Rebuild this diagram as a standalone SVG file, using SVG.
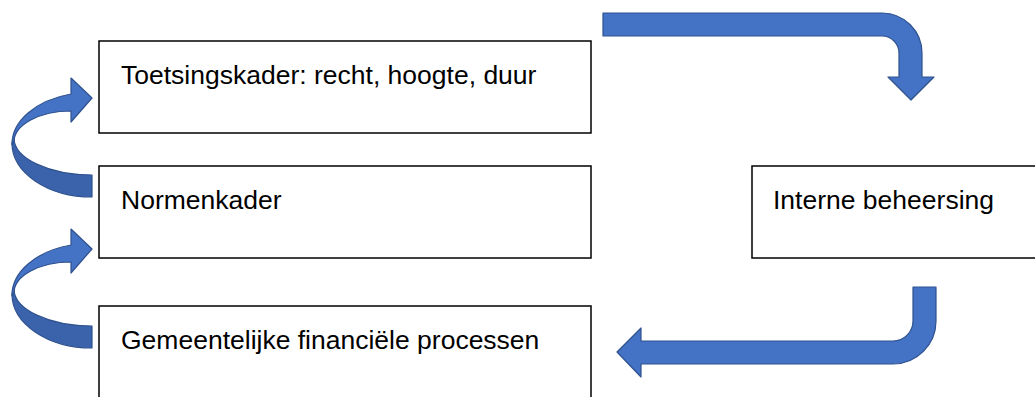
<svg xmlns="http://www.w3.org/2000/svg" width="1035" height="397" viewBox="0 0 1035 397">
<style>
.box{fill:#fff;stroke:#000;stroke-width:1.5}
.lbl{font-family:"Liberation Sans",Arial,sans-serif;font-size:26.5px;fill:#000}
.arr{fill:#4472C4;stroke:#2F528F;stroke-width:1.2;stroke-linejoin:round}
.back{fill:#3A63AC;stroke:#2F528F;stroke-width:1.2;stroke-linejoin:round}
</style>
<defs>
<g id="curl">
<path class="back" d="M12,143 A80,54 0 0 0 92,197 V175 A78,37 0 0 1 14,138 Z"/>
<path class="arr" d="M71,78 L92,98 L71,122 V111 A57,31 0 0 0 14,142 L12,145 A80,52 0 0 1 71,94 Z"/>
</g>
</defs>
<rect width="1035" height="397" fill="#fff"/>
<g id="node-toetsingskader">
<rect class="box" x="99" y="41" width="492" height="92"/>
<text class="lbl" x="121" y="84">Toetsingskader: recht, hoogte, duur</text>
</g>
<g id="node-normenkader">
<rect class="box" x="99" y="166" width="492" height="92"/>
<text class="lbl" x="121" y="209">Normenkader</text>
</g>
<g id="node-gemeentelijke">
<rect class="box" x="99" y="306" width="492" height="100"/>
<text class="lbl" x="121" y="349">Gemeentelijke financiële processen</text>
</g>
<g id="node-interne">
<rect class="box" x="752" y="166" width="300" height="92"/>
<text class="lbl" x="773" y="209">Interne beheersing</text>
</g>
<g id="connectors">
<path class="arr" d="M603,13 H882 A40,40 0 0 1 922,53 V77 H934 L911,100 L888,77 H899 V53 A17,17 0 0 0 882,36 H603 Z"/>
<path class="arr" d="M913,287 H936 V321 A43,43 0 0 1 893,364 H641 V377 L617,352 L641,328 V341 H893 A20,20 0 0 0 913,321 Z"/>
<use href="#curl"/>
<use href="#curl" transform="translate(0,151)"/>
</g>
</svg>
